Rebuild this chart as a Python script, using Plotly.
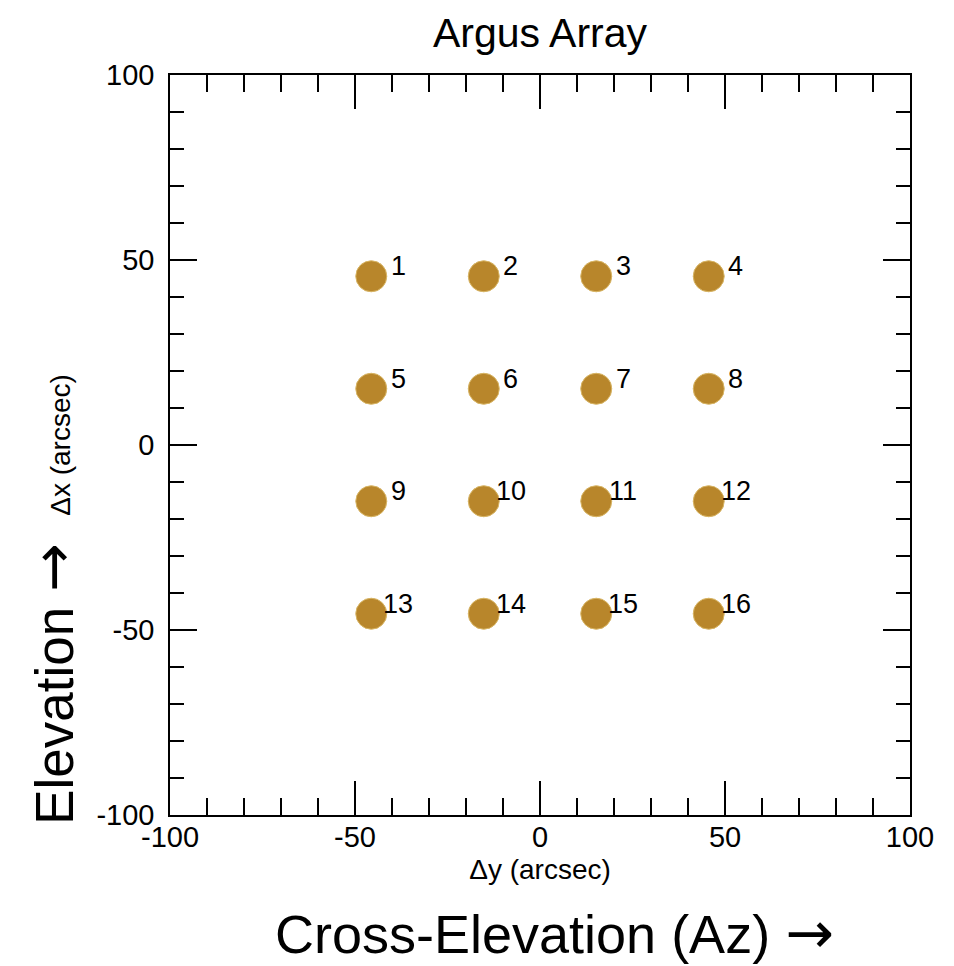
import plotly.graph_objects as go

# Argus 4x4 beam positions (arcsec), beam spacing 30.4"
beam_id = [str(i) for i in range(1, 17)]
dy_pos = [-45.6, -15.2, 15.2, 45.6] * 4
dx_pos = [45.6] * 4 + [15.2] * 4 + [-15.2] * 4 + [-45.6] * 4

tick_vals = [-100, -50, 0, 50, 100]
tick_text = ["-100", "-50", "0", "50", "100"]

gold = "#B8862B"
fnt = "Liberation Sans, Arial, Helvetica, sans-serif"
arrow = '<span style="font-family:DejaVu Sans;font-size:58px">\u2192</span>'

fig = go.Figure()
fig.add_trace(go.Scatter(
    x=dy_pos, y=dx_pos, mode="markers",
    marker=dict(size=31, color=gold, line=dict(width=1, color="#d8b564")),
    hoverinfo="skip", showlegend=False,
))

# beam numbers, up and to the right of each dot
for b, xx, yy in zip(beam_id, dy_pos, dx_pos):
    fig.add_annotation(x=xx, y=yy, text=b, showarrow=False,
                       xshift=27, yshift=10,
                       font=dict(size=27, color="black", family=fnt))

fig.add_annotation(xref="paper", yref="paper", x=-0.158, y=0.176,
                   xanchor="center", yanchor="middle",
                   text="Elevation " + arrow, textangle=-90, showarrow=False,
                   font=dict(size=53, color="black", family=fnt))
fig.add_annotation(xref="paper", yref="paper", x=0.52, y=-0.159,
                   xanchor="center", yanchor="middle",
                   text="Cross-Elevation (Az) " + arrow, showarrow=False,
                   font=dict(size=54, color="black", family=fnt))

axis_common = dict(
    range=[-100, 100], tickvals=tick_vals, ticktext=tick_text,
    ticks="inside", tickwidth=1.5, tickcolor="black",
    showline=True, linecolor="black", linewidth=1.5, mirror="ticks",
    showgrid=False, zeroline=False,
    tickfont=dict(size=29, color="black", family=fnt),
)

fig.update_xaxes(**axis_common, ticklen=34, ticklabelstandoff=-5,
                 minor=dict(dtick=10, ticks="inside", ticklen=17, tickwidth=1.5,
                            tickcolor="black", showgrid=False),
                 title=dict(text="\u0394y (arcsec)", standoff=8,
                            font=dict(size=28, color="black", family=fnt)))
fig.update_yaxes(**axis_common, ticklen=27, ticklabelstandoff=8,
                 minor=dict(dtick=10, ticks="inside", ticklen=14, tickwidth=1.5,
                            tickcolor="black", showgrid=False),
                 title=dict(text="\u0394x (arcsec)", standoff=18,
                            font=dict(size=28, color="black", family=fnt)))

fig.update_layout(
    width=954, height=966,
    margin=dict(l=162, r=52, t=67, b=159),
    plot_bgcolor="white", paper_bgcolor="white",
    title=dict(text="Argus Array", xref="paper", x=0.5, xanchor="center",
               y=0.974, yanchor="middle",
               font=dict(size=41, color="black", family=fnt)),
)

fig.write_html("out.html")
